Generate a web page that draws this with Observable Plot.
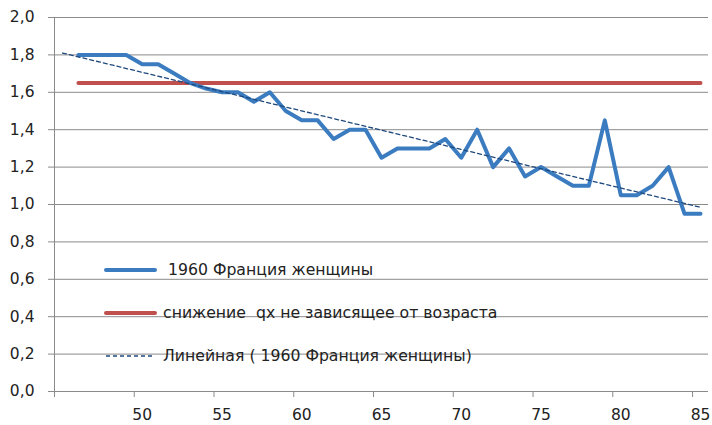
<!DOCTYPE html>
<html>
<head>
<meta charset="utf-8">
<script src="https://cdn.jsdelivr.net/npm/d3@7"></script>
<script src="https://cdn.jsdelivr.net/npm/@observablehq/plot@0.6"></script>
<style>
  html, body { margin: 0; padding: 0; background: #fff; }
  #wrap { position: relative; width: 712px; height: 425px; font-family: "DejaVu Sans", sans-serif; }
  #legend { position: absolute; left: 0; top: 0; }
  .item { position: absolute; left: 103px; display: flex; align-items: center; font-size: 15.7px; color: #222; white-space: pre; line-height: 20px; }
  .item svg { margin-right: 6px; }
</style>
</head>
<body>
<div id="wrap"><div id="legend"></div></div>
<script>
// ---- data ----
const ages = [46,47,48,49,50,51,52,53,54,55,56,57,58,59,60,61,62,63,64,65,66,67,68,69,70,71,72,73,74,75,76,77,78,79,80,81,82,83,84,85];
const qxDecline = [1.80,1.80,1.80,1.80,1.75,1.75,1.70,1.65,1.62,1.60,
                   1.60,1.55,1.60,1.50,1.45,1.45,1.35,1.40,1.40,1.25,
                   1.30,1.30,1.30,1.35,1.25,1.40,1.20,1.30,1.15,1.20,
                   1.15,1.10,1.10,1.45,1.05,1.05,1.10,1.20,0.95,0.95];
const uniformDecline = 1.65;            // снижение qx не зависящее от возраста
const trendAges = [45, 85];
const trendValues = [1.81, 0.985];
const yTicks = [0, 0.2, 0.4, 0.6, 0.8, 1.0, 1.2, 1.4, 1.6, 1.8, 2.0];
const xLabels = [50, 55, 60, 65, 70, 75, 80, 85];
const seriesNames = [" 1960 Франция женщины", "снижение  qx не зависящее от возраста", "Линейная ( 1960 Франция женщины)"];

const blue = "#3b7cc0", red = "#c0504d", navy = "#1f497d", grid = "#8a8a8a";

const mainData = ages.map((a, i) => ({age: a, v: qxDecline[i]}));
const flatData = ages.map(a => ({age: a, v: uniformDecline}));
const trendData = trendAges.map((a, i) => ({age: a, v: trendValues[i]}));
const boundaries = d3.range(0, 9).map(k => 44.5 + 5 * k);

const chart = Plot.plot({
  width: 712,
  height: 425,
  marginLeft: 54,
  marginRight: 4,
  marginTop: 17,
  marginBottom: 34,
  style: {fontFamily: "DejaVu Sans, sans-serif", fontSize: "15.5px", color: "#222", background: "#fff"},
  x: {domain: [44.5, 85.5]},
  y: {domain: [0, 2]},
  marks: [
    Plot.ruleY(yTicks, {stroke: grid, strokeWidth: 1, x1: 44.5, x2: 85.5}),
    Plot.ruleX([44.5], {stroke: grid, strokeWidth: 1, y1: 0, y2: 2}),
    Plot.axisY({ticks: yTicks, tickSize: 6, tickPadding: 14, stroke: grid,
                tickFormat: d => d.toFixed(1).replace(".", ","), label: null}),
    Plot.axisX({ticks: boundaries, tickSize: 6, stroke: grid, tickFormat: () => "", label: null}),
    Plot.axisX({ticks: xLabels, tickSize: 0, tickPadding: 17, tickFormat: d => String(d), label: null}),
    Plot.line(flatData, {x: "age", y: "v", stroke: red, strokeWidth: 4, strokeLinecap: "round"}),
    Plot.line(mainData, {x: "age", y: "v", stroke: blue, strokeWidth: 4, strokeLinejoin: "round"}),
    Plot.line(trendData, {x: "age", y: "v", stroke: navy, strokeWidth: 1.3, strokeDasharray: "4,3"})
  ]
});
document.getElementById("wrap").prepend(chart);

// ---- legend (inside plot area, drawn over gridlines) ----
const legendStyles = [
  {stroke: blue, width: 4, dash: null, top: 270},
  {stroke: red, width: 4, dash: null, top: 313},
  {stroke: navy, width: 1.3, dash: "4,3", top: 356}
];
const legend = document.getElementById("legend");
seriesNames.forEach((name, i) => {
  const s = legendStyles[i];
  const div = document.createElement("div");
  div.className = "item";
  div.style.top = (s.top - 10) + "px";
  div.innerHTML = `<svg width="54" height="20"><line x1="3" x2="52" y1="10" y2="10" stroke="${s.stroke}" stroke-width="${s.width}" stroke-linecap="${s.dash ? "butt" : "round"}" ${s.dash ? `stroke-dasharray="${s.dash}"` : ""}/></svg><span>${name}</span>`;
  legend.appendChild(div);
});
</script>
</body>
</html>
